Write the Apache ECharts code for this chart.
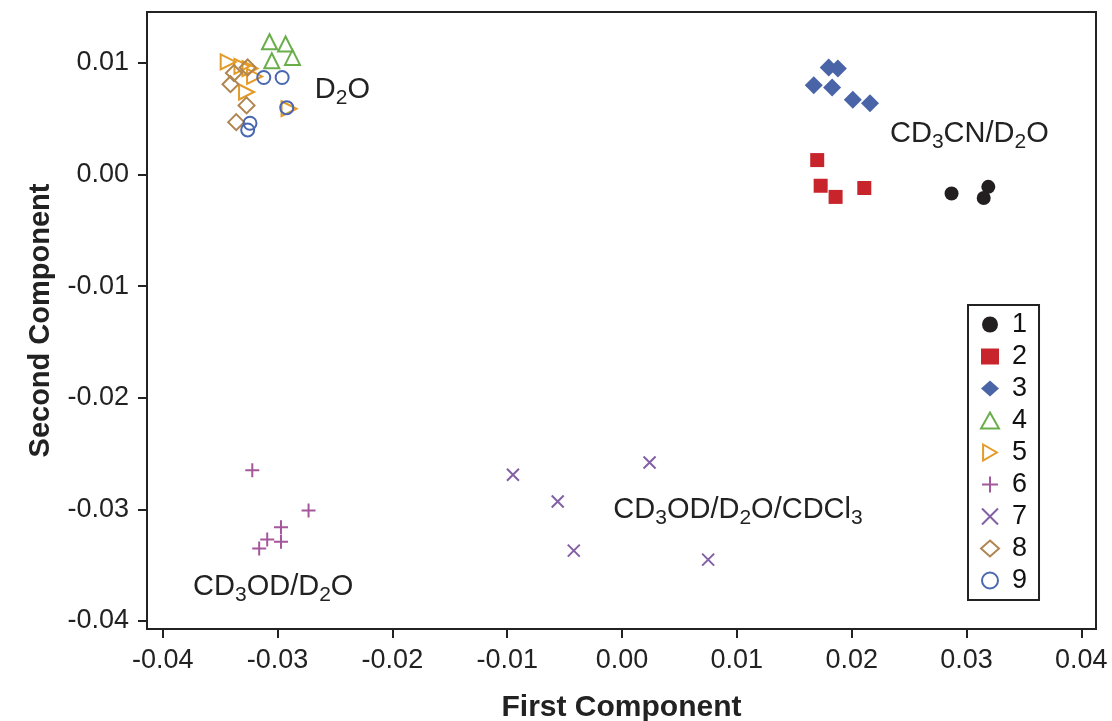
<!DOCTYPE html>
<html lang="en">
<head>
    <meta charset="UTF-8">
    <title>PCA scores</title>
    <script src="https://cdn.jsdelivr.net/npm/echarts@6.0.0/dist/echarts.min.js"></script>
    <style>
        body { margin: 0; padding: 0; background: #fff; }
        #chart { width: 1112px; height: 721px; }
    </style>
</head>
<body>
    <div id="chart"></div>
    <script>
        // score points per sample group, [first component, second component]
        var group1 = [[0.0287, -0.0017], [0.0319, -0.0011], [0.0315, -0.0021]];
        var group2 = [[0.0170, 0.0013], [0.0173, -0.0010], [0.0186, -0.0020], [0.0211, -0.0012]];
        var group3 = [[0.0180, 0.0096], [0.0188, 0.0095], [0.0167, 0.0080], [0.0183, 0.0078], [0.0201, 0.0067], [0.0216, 0.0064]];
        var group4 = [[-0.0307, 0.0119], [-0.0293, 0.0117], [-0.0305, 0.0102], [-0.0287, 0.0105]];
        var group5 = [[-0.0343, 0.0101], [-0.0331, 0.0097], [-0.0324, 0.0095], [-0.0320, 0.0088], [-0.0327, 0.0074], [-0.0290, 0.0059]];
        var group6 = [[-0.0322, -0.0265], [-0.0273, -0.0301], [-0.0297, -0.0316], [-0.0309, -0.0327], [-0.0297, -0.0329], [-0.0316, -0.0335]];
        var group7 = [[-0.0095, -0.0269], [-0.0056, -0.0293], [-0.0042, -0.0337], [0.0024, -0.0258], [0.0075, -0.0345]];
        var group8 = [[-0.0326, 0.0096], [-0.0338, 0.0091], [-0.0341, 0.0081], [-0.0327, 0.0062], [-0.0336, 0.0047]];
        var group9 = [[-0.0312, 0.0087], [-0.0296, 0.0087], [-0.0292, 0.0060], [-0.0324, 0.0046], [-0.0326, 0.0040]];

        var groupNames = ['1', '2', '3', '4', '5', '6', '7', '8', '9'];
        var xTicks = [-0.04, -0.03, -0.02, -0.01, 0.00, 0.01, 0.02, 0.03, 0.04];
        var yTicks = [-0.04, -0.03, -0.02, -0.01, 0.00, 0.01];

        // solvent labels: position and rich text
        var notePos = [[-0.0268, 0.0076], [0.0233, 0.0036], [-0.0008, -0.0301], [-0.0374, -0.0370]];
        var noteText = [
            '{n|D}{s|2}{n|O}',
            '{n|CD}{s|3}{n|CN/D}{s|2}{n|O}',
            '{n|CD}{s|3}{n|OD/D}{s|2}{n|O/CDCl}{s|3}',
            '{n|CD}{s|3}{n|OD/D}{s|2}{n|O}'
        ];

        var font = '"Liberation Sans", Arial, Helvetica, sans-serif';
        var ink = '#222';
        var chart = echarts.init(document.getElementById('chart'));

        function solid(color) {
            return { color: color, opacity: 1 };
        }
        function hollow(color) {
            return { color: 'rgba(0,0,0,0)', borderColor: color, borderWidth: 2, opacity: 1 };
        }

        var plusPath = 'path://M0,5L10,5M5,0L5,10';
        var crossPath = 'path://M0,0L10,10M10,0L0,10';
        var rightTriPath = 'path://M0,0L10,5.8L0,11.6Z';

        chart.setOption({
            animation: false,
            grid: {
                left: 147, right: 16, top: 12, bottom: 92,
                outerBoundsMode: 'none', containLabel: false,
                show: true, borderColor: ink, borderWidth: 2
            },
            xAxis: {
                type: 'value',
                min: -0.04137, max: 0.04128,
                splitLine: { show: false },
                axisLine: { show: false, onZero: false },
                axisTick: { show: true, inside: false, length: 9, customValues: xTicks, lineStyle: { color: ink, width: 2 } },
                axisLabel: {
                    customValues: xTicks, fontSize: 27, color: ink, fontFamily: font, margin: 18,
                    formatter: function (v) { return v.toFixed(2); }
                },
                name: 'First Component', nameLocation: 'middle', nameGap: 64,
                nameTextStyle: { fontSize: 30, fontWeight: 'bold', color: ink, fontFamily: font }
            },
            yAxis: {
                type: 'value',
                min: -0.04072, max: 0.01457,
                splitLine: { show: false },
                axisLine: { show: false, onZero: false },
                axisTick: { show: true, inside: false, length: 9, customValues: yTicks, lineStyle: { color: ink, width: 2 } },
                axisLabel: {
                    customValues: yTicks, fontSize: 27, color: ink, fontFamily: font, margin: 18,
                    formatter: function (v) { return v.toFixed(2); }
                },
                name: 'Second Component', nameLocation: 'middle', nameGap: 92,
                nameTextStyle: { fontSize: 29, fontWeight: 'bold', color: ink, fontFamily: font }
            },
            legend: {
                data: groupNames,
                orient: 'vertical',
                left: 968, top: 305,
                padding: [6, 12, 6, 12],
                itemGap: 5,
                itemWidth: 18, itemHeight: 16,
                borderColor: ink, borderWidth: 2,
                textStyle: { fontSize: 27, color: '#111', fontFamily: font, padding: [0, 0, 0, 8] }
            },
            series: [
                { name: '1', type: 'scatter', data: group1, symbol: 'circle', symbolSize: 14, itemStyle: solid('#231f20') },
                { name: '2', type: 'scatter', data: group2, symbol: 'rect', symbolSize: 14, itemStyle: solid('#c8242b') },
                { name: '3', type: 'scatter', data: group3, symbol: 'diamond', symbolSize: 18, itemStyle: solid('#4a64a8') },
                { name: '4', type: 'scatter', data: group4, symbol: 'triangle', symbolSize: 15, itemStyle: hollow('#6aae4c') },
                { name: '5', type: 'scatter', data: group5, symbol: rightTriPath, symbolSize: 15, itemStyle: hollow('#e49a26') },
                { name: '6', type: 'scatter', data: group6, symbol: plusPath, symbolSize: 14, itemStyle: hollow('#a5579b') },
                { name: '7', type: 'scatter', data: group7, symbol: crossPath, symbolSize: 12, itemStyle: hollow('#8360a6') },
                { name: '8', type: 'scatter', data: group8, symbol: 'diamond', symbolSize: 16, itemStyle: hollow('#b08550') },
                { name: '9', type: 'scatter', data: group9, symbol: 'circle', symbolSize: 13, itemStyle: hollow('#4a68b0') },
                {
                    name: 'notes', type: 'scatter', silent: true,
                    symbolSize: 1, itemStyle: { color: 'rgba(0,0,0,0)', opacity: 1 },
                    data: notePos.map(function (p, i) { return { value: p, note: noteText[i] }; }),
                    label: {
                        show: true, position: 'right', distance: 0,
                        formatter: function (p) { return p.data.note; },
                        rich: {
                            n: { fontSize: 29, color: ink, fontFamily: font, lineHeight: 30 },
                            s: { fontSize: 21, color: ink, fontFamily: font, padding: [16, 0, 0, 0] }
                        }
                    }
                }
            ]
        });
    </script>
</body>
</html>
